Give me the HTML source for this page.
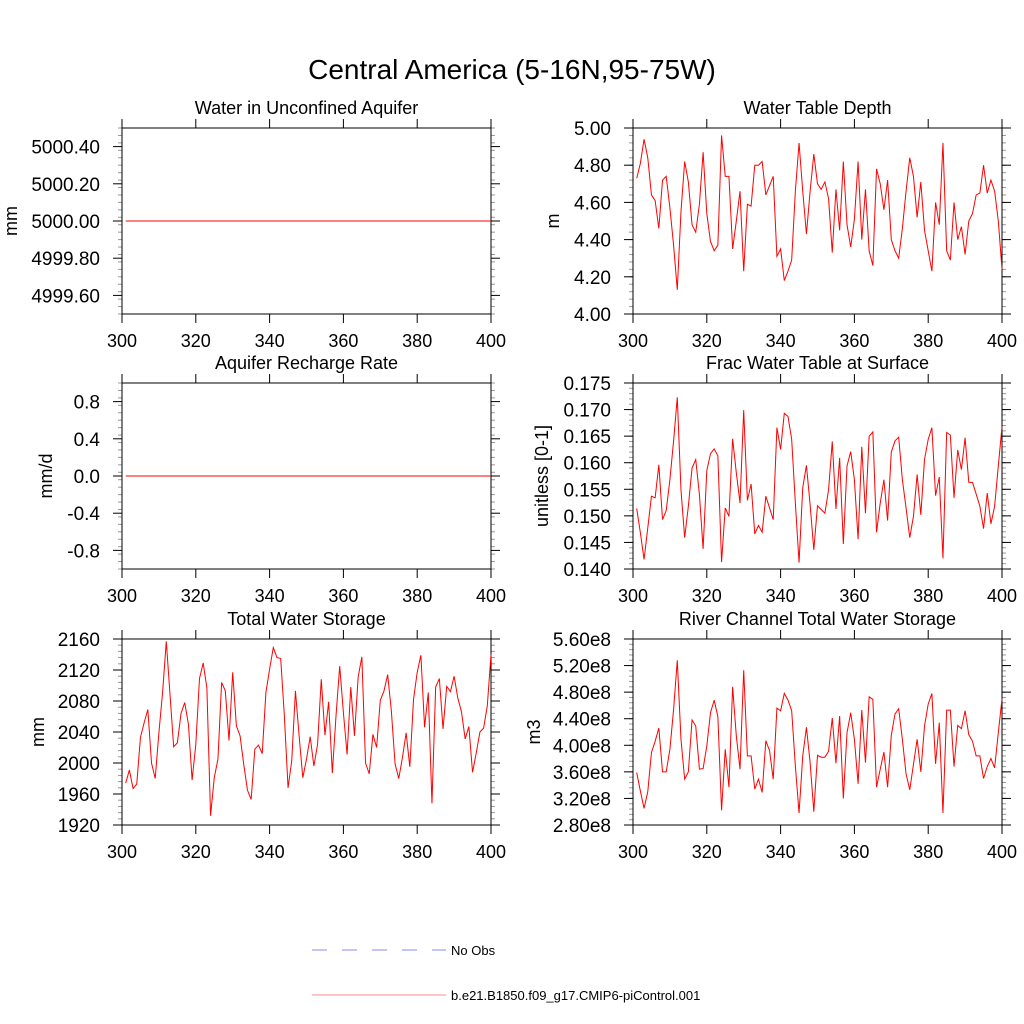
<!DOCTYPE html>
<html><head><meta charset="utf-8"><style>
html,body{margin:0;padding:0;background:#fff;width:1024px;height:1024px;overflow:hidden}
svg{font-family:"Liberation Sans",Arial,sans-serif}
</style></head><body>
<svg id="chart" width="1024" height="1024" viewBox="0 0 1024 1024">
<text x="512" y="79" text-anchor="middle" font-size="28">Central America (5-16N,95-75W)</text>
<g id="panels"></g>
<g>
<line x1="312" y1="950" x2="446" y2="950" stroke="#8888ee" stroke-width="1" stroke-dasharray="15,15"/>
<text x="451" y="955" font-size="13">No Obs</text>
<line x1="312" y1="995" x2="446" y2="995" stroke="#ff8888" stroke-width="1"/>
<text x="451" y="1000" font-size="13">b.e21.B1850.f09_g17.CMIP6-piControl.001</text>
</g>
</svg>
<script>
const years = []; for (let y = 301; y <= 400; y++) years.push(y);
const xTicks = [300, 320, 340, 360, 380, 400];
const aquiferValues = new Array(100).fill(5000);
const rechargeValues = new Array(100).fill(0);
const wtdValues = [4.73,4.81,4.94,4.84,4.64,4.61,4.46,4.72,4.74,4.57,4.37,4.13,4.55,4.82,4.71,4.48,4.44,4.59,4.87,4.54,4.39,4.34,4.37,4.96,4.74,4.74,4.35,4.50,4.66,4.23,4.59,4.58,4.80,4.80,4.82,4.64,4.69,4.74,4.31,4.35,4.18,4.23,4.29,4.66,4.92,4.66,4.43,4.66,4.86,4.70,4.67,4.71,4.62,4.33,4.67,4.45,4.82,4.48,4.36,4.51,4.82,4.40,4.67,4.34,4.26,4.78,4.70,4.56,4.72,4.40,4.34,4.30,4.46,4.66,4.84,4.74,4.52,4.71,4.45,4.34,4.23,4.60,4.48,4.92,4.34,4.29,4.60,4.40,4.47,4.32,4.50,4.54,4.64,4.65,4.80,4.65,4.72,4.66,4.50,4.24];
const fracValues = [0.1514,0.1468,0.1418,0.1477,0.1537,0.1534,0.1596,0.1493,0.1510,0.1568,0.1641,0.1723,0.1549,0.1459,0.1518,0.1590,0.1606,0.1540,0.1438,0.1585,0.1617,0.1626,0.1613,0.1413,0.1515,0.1499,0.1645,0.1581,0.1524,0.1699,0.1529,0.1560,0.1466,0.1482,0.1469,0.1537,0.1515,0.1493,0.1666,0.1625,0.1693,0.1687,0.1644,0.1524,0.1412,0.1553,0.1595,0.1521,0.1436,0.1519,0.1512,0.1505,0.1549,0.1640,0.1513,0.1609,0.1447,0.1594,0.1621,0.1568,0.1456,0.1630,0.1505,0.1650,0.1658,0.1469,0.1524,0.1568,0.1491,0.1620,0.1641,0.1648,0.1568,0.1515,0.1459,0.1499,0.1578,0.1502,0.1606,0.1644,0.1666,0.1538,0.1573,0.1420,0.1657,0.1652,0.1534,0.1624,0.1587,0.1647,0.1563,0.1563,0.1541,0.1518,0.1476,0.1543,0.1485,0.1518,0.1594,0.1668];
const twsValues = [1974,1991,1967,1973,2033,2052,2069,2000,1980,2039,2091,2157,2089,2021,2026,2064,2078,2050,1978,2024,2109,2129,2097,1932,1981,2005,2104,2093,2029,2117,2048,2035,1998,1965,1953,2018,2023,2012,2091,2121,2149,2136,2135,2061,1968,2003,2093,2035,1981,2005,2034,1996,2024,2108,2036,2079,1987,2061,2125,2065,2011,2098,2035,2111,2137,2000,1986,2037,2020,2081,2093,2114,2067,1999,1980,2007,2039,1995,2082,2117,2139,2046,2091,1948,2098,2109,2044,2099,2092,2112,2084,2066,2031,2047,1988,2013,2040,2045,2074,2140];
const riverValues = [3.59,3.31,3.05,3.30,3.89,4.06,4.26,3.60,3.60,3.94,4.54,5.28,4.09,3.49,3.60,4.38,4.29,3.64,3.65,3.99,4.49,4.68,4.43,3.02,3.94,3.37,4.88,4.14,3.64,5.13,3.84,3.84,3.34,3.49,3.29,4.07,3.92,3.49,4.56,4.52,4.78,4.68,4.52,3.69,2.98,3.84,4.27,3.74,3.00,3.85,3.82,3.82,3.91,4.41,3.73,4.44,3.20,4.19,4.49,4.09,3.42,4.53,3.74,4.73,4.69,3.37,3.64,3.90,3.37,4.15,4.47,4.55,4.09,3.57,3.33,3.71,4.09,3.60,4.29,4.62,4.78,3.72,4.34,2.98,4.53,4.53,3.68,4.30,4.25,4.52,4.16,4.06,3.84,3.84,3.50,3.68,3.80,3.66,4.19,4.70].map(v => v * 1e8);

const aquiferTicks = [4999.6, 4999.8, 5000.0, 5000.2, 5000.4];
const aquiferTickLabels = ["4999.60","4999.80","5000.00","5000.20","5000.40"];
const rechargeTicks = [-0.8, -0.4, 0, 0.4, 0.8];
const rechargeTickLabels = ["-0.8","-0.4","0.0","0.4","0.8"];
const wtdTicks = [4.0, 4.2, 4.4, 4.6, 4.8, 5.0];
const wtdTickLabels = ["4.00","4.20","4.40","4.60","4.80","5.00"];
const fracTicks = [0.140,0.145,0.150,0.155,0.160,0.165,0.170,0.175];
const fracTickLabels = ["0.140","0.145","0.150","0.155","0.160","0.165","0.170","0.175"];
const twsTicks = [1920,1960,2000,2040,2080,2120,2160];
const twsTickLabels = ["1920","1960","2000","2040","2080","2120","2160"];
const riverTicks = [2.8e8,3.2e8,3.6e8,4.0e8,4.4e8,4.8e8,5.2e8,5.6e8];
const riverTickLabels = ["2.80e8","3.20e8","3.60e8","4.00e8","4.40e8","4.80e8","5.20e8","5.60e8"];

const NS = "http://www.w3.org/2000/svg";
const root = document.getElementById("panels");
function mk(tag, attrs, parent) {
  const e = document.createElementNS(NS, tag);
  for (const k in attrs) e.setAttribute(k, attrs[k]);
  parent.appendChild(e);
  return e;
}
function panel(o) {
  const g = mk("g", {}, root);
  
  
  const L = o.x0, R = o.x0 + 369, T = o.y0, B = o.y0 + 186;
  const xs = v => L + (v - 300) / 100 * (R - L);
  const ys = v => B - (v - o.ymin) / (o.ymax - o.ymin) * (B - T);
  const step = o.ticks[1] - o.ticks[0];
  for (let v = o.ymin; v <= o.ymax + 1e-9 * Math.abs(o.ymax); v += step / 5) {
    const y = ys(v);
    if (y < T - 0.5 || y > B + 0.5) continue;
    const m1 = mk("line", {x1: L - 4, x2: L, y1: y, y2: y, stroke: "#999", "stroke-width": 1}, g);
    
    
    const m2 = mk("line", {x1: R, x2: R + 4, y1: y, y2: y, stroke: "#999", "stroke-width": 1}, g);
    
    
  }
  const frame = mk("rect", {x: L, y: T, width: R - L, height: B - T, fill: "none", stroke: "#000", "stroke-width": 1}, g);
  
  
  o.ticks.forEach((v, i) => {
    const y = ys(v);
    const t1 = mk("line", {x1: L - 9, x2: L, y1: y, y2: y, stroke: "#000"}, g);
    
    
    const t2 = mk("line", {x1: R, x2: R + 9, y1: y, y2: y, stroke: "#000"}, g);
    
    
    const tx = mk("text", {x: L - 22, y: y + 7, "text-anchor": "end", "font-size": 19}, g);
    tx.textContent = o.labels[i];
    
    
  });
  xTicks.forEach(v => {
    const x = xs(v);
    const t1 = mk("line", {x1: x, x2: x, y1: T - 9, y2: T, stroke: "#000"}, g);
    
    
    const t2 = mk("line", {x1: x, x2: x, y1: B, y2: B + 9, stroke: "#000"}, g);
    
    
    const tx = mk("text", {x: x, y: B + 33, "text-anchor": "middle", "font-size": 18}, g);
    tx.textContent = String(v);
    
    
  });
  const title = mk("text", {x: (L + R) / 2, y: T - 14, "text-anchor": "middle", "font-size": 18}, g);
  title.textContent = o.title;
  
  
  const yt = mk("text", {x: 0, y: 0, "text-anchor": "middle", "font-size": 18, transform: `translate(${o.ytx},${(T + B) / 2}) rotate(-90)`}, g);
  yt.textContent = o.ytitle;
  
  
  const pts = o.values.map((v, i) => xs(years[i]).toFixed(2) + "," + ys(v).toFixed(2)).join(" ");
  const line = mk("polyline", {points: pts, fill: "none", stroke: "#ff0000", "stroke-width": 1}, g);
  
  
}
panel({name: "aquifer-water", x0: 122, y0: 128, ymin: 4999.5, ymax: 5000.5, ticks: aquiferTicks, labels: aquiferTickLabels, values: aquiferValues, title: "Water in Unconfined Aquifer", ytitle: "mm", ytx: 17});
panel({name: "water-table-depth", x0: 633, y0: 128, ymin: 4.0, ymax: 5.0, ticks: wtdTicks, labels: wtdTickLabels, values: wtdValues, title: "Water Table Depth", ytitle: "m", ytx: 559});
panel({name: "aquifer-recharge", x0: 122, y0: 383, ymin: -1, ymax: 1, ticks: rechargeTicks, labels: rechargeTickLabels, values: rechargeValues, title: "Aquifer Recharge Rate", ytitle: "mm/d", ytx: 52});
panel({name: "frac-water-table", x0: 633, y0: 383, ymin: 0.140, ymax: 0.175, ticks: fracTicks, labels: fracTickLabels, values: fracValues, title: "Frac Water Table at Surface", ytitle: "unitless [0-1]", ytx: 548});
panel({name: "total-water-storage", x0: 122, y0: 639, ymin: 1920, ymax: 2160, ticks: twsTicks, labels: twsTickLabels, values: twsValues, title: "Total Water Storage", ytitle: "mm", ytx: 44});
panel({name: "river-channel-storage", x0: 633, y0: 639, ymin: 2.8e8, ymax: 5.6e8, ticks: riverTicks, labels: riverTickLabels, values: riverValues, title: "River Channel Total Water Storage", ytitle: "m3", ytx: 540});
</script>
</body></html>
